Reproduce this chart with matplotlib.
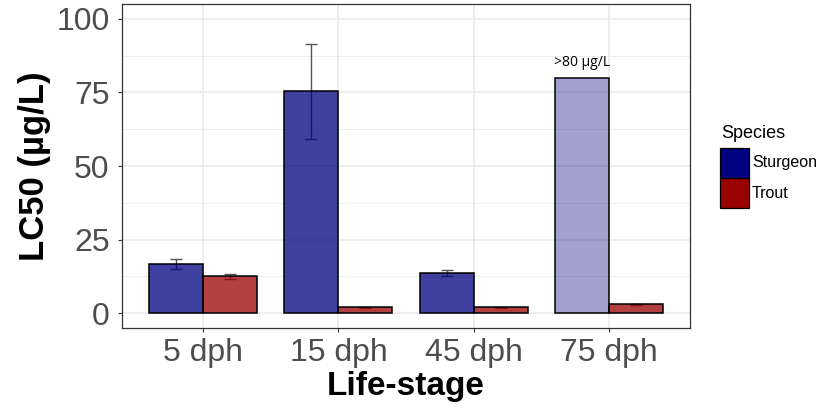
import matplotlib.pyplot as plt
import matplotlib.patches as mpatches
import numpy as np

plt.rcParams['font.family'] = ['Liberation Sans', 'DejaVu Sans']

stages = ['5 dph', '15 dph', '45 dph', '75 dph']
sturgeon = [16.6, 75.3, 13.6, 80.0]
sturgeon_err = [1.7, 16.2, 1.0, 0.0]
trout = [12.5, 2.0, 2.0, 3.0]
trout_err = [0.7, 0.2, 0.2, 0.3]
censored = [False, False, False, True]   # 75 dph: >80 ug/L
species = ['Sturgeon', 'Trout']

C_STUR = '#000080'
C_TROUT = '#990000'
C_GRID = '#EBEBEB'
C_TXT = '#4D4D4D'

W, H = 817, 408
fig = plt.figure(figsize=(W / 100, H / 100), dpi=100)
ax = fig.add_axes([122 / W, (H - 328) / H, 568 / W, 324 / H])

x = np.arange(1, len(stages) + 1)
bw = 0.4

# grid
for yv in [12.5, 37.5, 62.5, 87.5]:
    ax.axhline(yv, color=C_GRID, lw=0.6, zorder=0)
for yv in [0, 25, 50, 75, 100]:
    ax.axhline(yv, color=C_GRID, lw=1.2, zorder=0)
for xv in x:
    ax.axvline(xv, color=C_GRID, lw=1.2, zorder=0)

# error bars (under the semi-transparent bars), none for the censored value
keep = [i for i, c in enumerate(censored) if not c]
ax.errorbar(x[keep] - bw / 2, np.array(sturgeon)[keep],
            yerr=np.array(sturgeon_err)[keep], fmt='none',
            ecolor='#555555', elinewidth=1.0, capsize=4.5, capthick=1.0, zorder=1)
ax.errorbar(x + bw / 2, trout, yerr=trout_err, fmt='none',
            ecolor='#555555', elinewidth=1.0, capsize=4.5, capthick=1.0, zorder=1)

for xi, v, c in zip(x, sturgeon, censored):
    ax.bar(xi - bw / 2, v, width=bw, color=C_STUR, alpha=0.37 if c else 0.75,
           edgecolor='none', zorder=2)
    ax.bar(xi - bw / 2, v, width=bw, facecolor='none', edgecolor='black',
           lw=1.1, zorder=3)
    if c:
        ax.text(xi - bw / 2, v + 2.6, '>80 µg/L', ha='center', va='bottom',
                fontsize=10, family=['Open Sans', 'DejaVu Sans'], color='black')
ax.bar(x + bw / 2, trout, width=bw, color=C_TROUT, alpha=0.75,
       edgecolor='none', zorder=2)
ax.bar(x + bw / 2, trout, width=bw, facecolor='none', edgecolor='black',
       lw=1.1, zorder=3)

ax.set_xlim(0.4, 4.6)
ax.set_ylim(-5, 105)
ax.set_xticks(x)
ax.set_xticklabels(stages)
ax.set_yticks([0, 25, 50, 75, 100])
ax.tick_params(axis='both', labelsize=23, colors='#333333', labelcolor=C_TXT,
               length=3, width=0.8)
ax.tick_params(axis='y', pad=6)
ax.tick_params(axis='x', pad=4)
for sp in ax.spines.values():
    sp.set_color('#333333')
    sp.set_linewidth(0.9)

ax.set_xlabel('Life-stage', fontsize=24, fontweight='bold', labelpad=2)
ax.set_ylabel('LC50 (µg/L)', fontsize=25, fontweight='bold', labelpad=4)

# legend, drawn by hand (keys stacked with no gap, as in ggplot)
fig.text(721 / W, 1 - 133 / H, 'Species', fontsize=13, ha='left', va='center')
for i, (name, col) in enumerate(zip(species, [C_STUR, C_TROUT])):
    top = 148 + i * 30
    fig.patches.append(mpatches.Rectangle(
        (720 / W, 1 - (top + 30) / H), 29 / W, 30 / H, transform=fig.transFigure,
        facecolor=col, edgecolor='black', lw=0.9))
    fig.text(752 / W, 1 - (top + 15) / H, name, fontsize=11.5,
             ha='left', va='center')

fig.savefig('out.png', dpi=100, facecolor='white')
